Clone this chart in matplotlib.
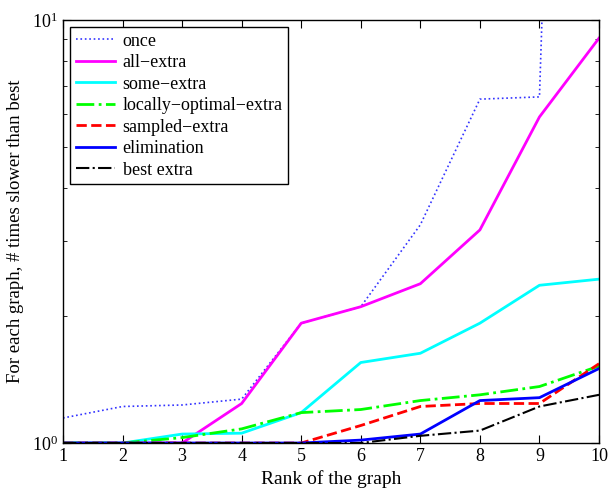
import matplotlib
matplotlib.use("Agg")
import matplotlib.pyplot as plt
from matplotlib.ticker import NullFormatter
import numpy as np

plt.rcParams['font.family'] = ['Liberation Serif', 'DejaVu Serif']
plt.rcParams['mathtext.fontset'] = 'stix'

rank = [1, 2, 3, 4, 5, 6, 7, 8, 9, 10]

once = [1.146, 1.22, 1.23, 1.27, 1.92, 2.10, 3.28, 6.5, 6.58, 1.5e5]
all_extra = [1.0, 1.0, 1.0, 1.24, 1.92, 2.10, 2.38, 3.19, 5.9, 9.06]
some_extra = [1.0, 1.0, 1.05, 1.055, 1.18, 1.55, 1.63, 1.92, 2.36, 2.44]
locally_optimal = [1.0, 1.0, 1.03, 1.08, 1.18, 1.20, 1.26, 1.30, 1.36, 1.52]
sampled_extra = [1.0, 1.0, 1.0, 1.0, 1.0, 1.10, 1.22, 1.24, 1.24, 1.54]
elimination = [1.0, 1.0, 1.0, 1.0, 1.0, 1.016, 1.05, 1.26, 1.28, 1.50]
best_extra = [1.0, 1.0, 1.0, 1.0, 1.0, 1.0, 1.04, 1.07, 1.22, 1.30]

fig = plt.figure(figsize=(6.14, 4.94), dpi=100)
ax = fig.add_axes([0.1026, 0.1032, 0.873, 0.8563])

ax.plot(rank, once, ':', color=(0.2, 0.2, 1.0), lw=1.2, label='once')
ax.plot(rank, all_extra, '-', color='magenta', lw=2, label='all\u2212extra')
ax.plot(rank, some_extra, '-', color='cyan', lw=2, label='some\u2212extra')
ax.plot(rank, locally_optimal, '-.', color=(0, 1, 0), lw=2, label='locally\u2212optimal\u2212extra')
ax.plot(rank, sampled_extra, '--', color='red', lw=2, label='sampled\u2212extra')
ax.plot(rank, elimination, '-', color='blue', lw=2, label='elimination')
ax.plot(rank, best_extra, '-.', color='black', lw=1.5, label='best extra')

ax.set_yscale('log')
ax.set_xlim(1, 10)
ax.set_ylim(1, 10)
ax.set_xticks(rank)
ax.yaxis.set_minor_formatter(NullFormatter())
ax.tick_params(which='both', direction='in', top=True, right=True, labelsize=13)
ax.tick_params(which='major', length=6)
ax.tick_params(which='minor', length=3)
for s in ax.spines.values():
    s.set_linewidth(1.0)

ax.set_xlabel('Rank of the graph', fontsize=14)
ax.set_ylabel('For each graph, # times slower than best', fontsize=13.5, labelpad=6)

leg = ax.legend(loc='upper left', fontsize=13, fancybox=False, framealpha=1,
                edgecolor='black', handlelength=2.2, labelspacing=0.25,
                borderaxespad=0.4, handletextpad=0.4, borderpad=0.3)
leg.get_frame().set_linewidth(1.0)

fig.savefig('out.png', dpi=100)
